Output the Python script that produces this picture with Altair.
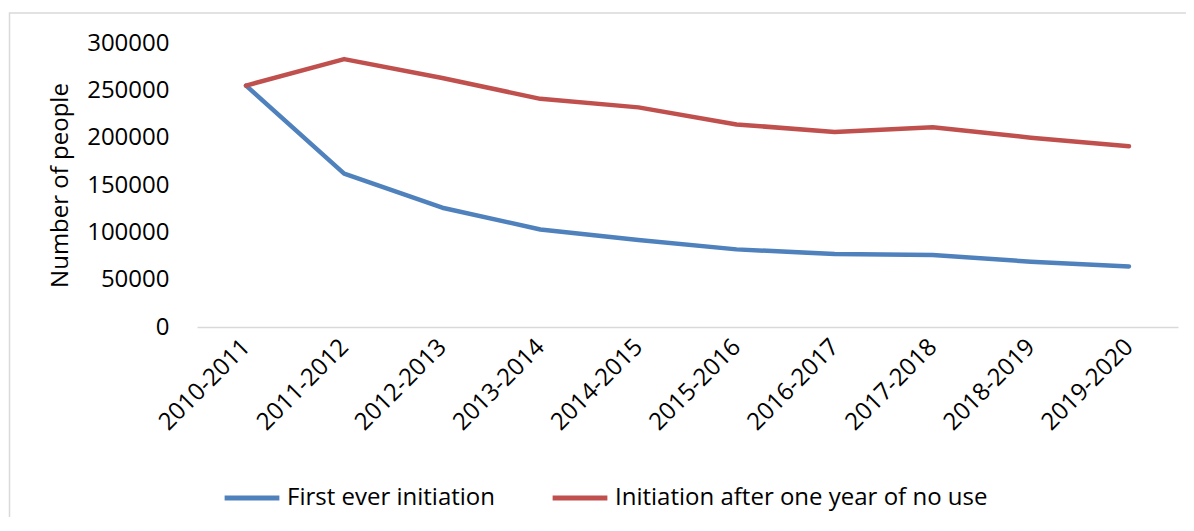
import altair as alt
import pandas as pd

years = ["2010-2011", "2011-2012", "2012-2013", "2013-2014", "2014-2015",
         "2015-2016", "2016-2017", "2017-2018", "2018-2019", "2019-2020"]
first_ever = [255000, 162000, 126000, 103000, 92000, 82000, 77000, 76000, 69000, 64000]
after_no_use = [255000, 283000, 263000, 241000, 232000, 214000, 206000, 211000, 200000, 191000]
series_names = ["First ever initiation", "Initiation after one year of no use"]
series_colors = ["#4F81BD", "#C0504D"]
y_ticks = [0, 50000, 100000, 150000, 200000, 250000, 300000]

rows = []
for i, yr in enumerate(years):
    rows.append({"year": yr, "series": series_names[0], "value": first_ever[i]})
    rows.append({"year": yr, "series": series_names[1], "value": after_no_use[i]})
df = pd.DataFrame(rows)

FONT = "Open Sans"
W, H = 981, 284
PAD_L, PAD_T, PAD_R, PAD_B = 189, 35, 8, 190

frame = alt.Chart(pd.DataFrame({"a": [0]})).mark_rect(
    fillOpacity=0, stroke="#D9D9D9", strokeWidth=1.5, clip=False
).encode(
    x=alt.value(-PAD_L + 1.5),
    x2=alt.value(W + 40),
    y=alt.value(-30),
    y2=alt.value(H + 300),
)

lines = alt.Chart(df).mark_line(strokeWidth=4.5, strokeCap="round", strokeJoin="round").encode(
    x=alt.X("year:N", sort=years, scale=alt.Scale(type="point", padding=0.5),
            axis=alt.Axis(title=None, labelAngle=-45, labelAlign="right", labelBaseline="middle",
                          labelPadding=16, labelFont=FONT, labelFontSize=24, labelColor="#000000",
                          ticks=False, domainColor="#D9D9D9", domainWidth=1.5, grid=False)),
    y=alt.Y("value:Q", scale=alt.Scale(domain=[0, 300000], nice=False),
            axis=alt.Axis(title="Number of people", values=y_ticks, format="d",
                          titleFont=FONT, titleFontSize=24, titleFontWeight="normal",
                          titleColor="#000000", titlePadding=14,
                          labelFont=FONT, labelFontSize=24, labelColor="#000000", labelPadding=28,
                          ticks=False, domain=False, grid=False)),
    color=alt.Color("series:N", scale=alt.Scale(domain=series_names, range=series_colors),
                    legend=alt.Legend(title=None, orient="none", direction="horizontal",
                                      legendX=25, legendY=H + 141,
                                      symbolType="stroke", symbolSize=3000, symbolStrokeWidth=5,
                                      labelFont=FONT, labelFontSize=24, labelColor="#000000",
                                      labelOffset=5, columnPadding=46, labelLimit=600)),
)

chart = alt.layer(frame, lines).properties(
    width=W, height=H,
    background="white",
    autosize=alt.AutoSizeParams(type="none"),
    padding={"left": PAD_L, "top": PAD_T, "right": PAD_R, "bottom": PAD_B},
).configure_view(strokeWidth=0, stroke="transparent")

chart.save("out.html", embed_options={"renderer": "svg", "actions": False})
